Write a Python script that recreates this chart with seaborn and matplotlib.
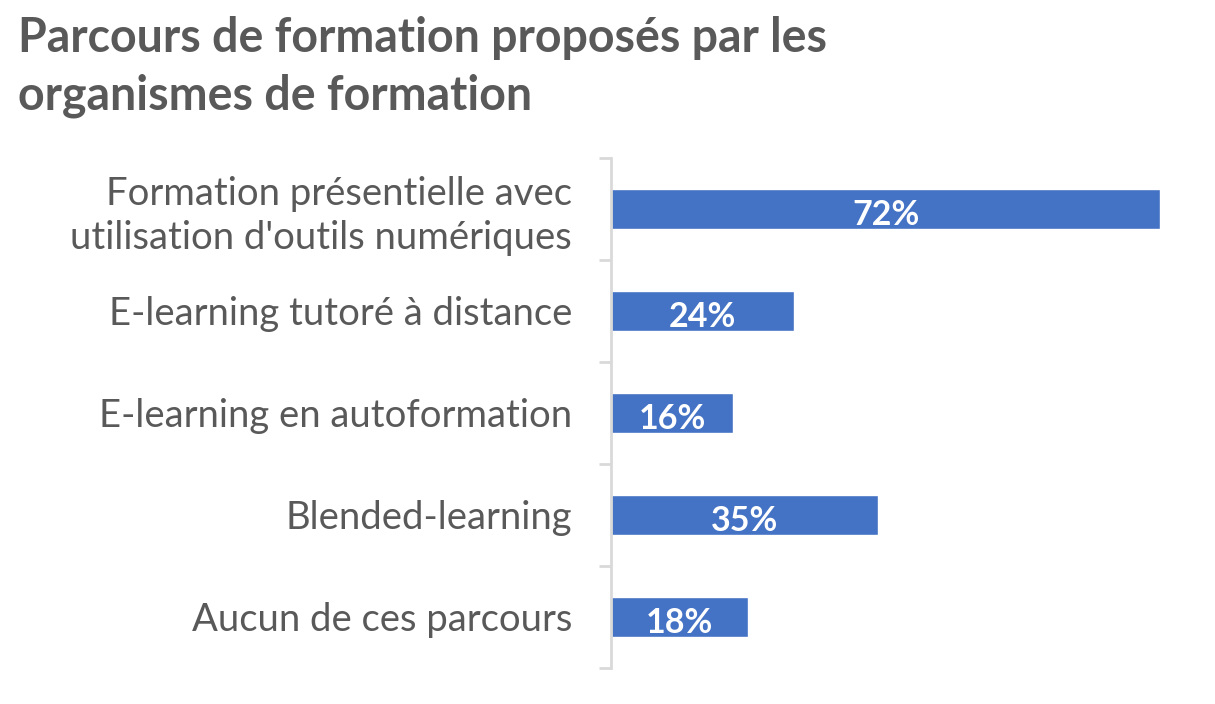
import matplotlib
matplotlib.use("Agg")
import matplotlib.pyplot as plt
import seaborn as sns
import pandas as pd
import numpy as np

categories = [
    "Formation présentielle avec\nutilisation d'outils numériques",
    "E-learning tutoré à distance",
    "E-learning en autoformation",
    "Blended-learning",
    "Aucun de ces parcours",
]
values = [72, 24, 16, 35, 18]
value_labels = ["72%", "24%", "16%", "35%", "18%"]
title = "Parcours de formation proposés par les\norganismes de formation"

sns.set_theme(style="white")
plt.rcParams['font.family'] = ['Lato', 'DejaVu Sans']

df = pd.DataFrame({"cat": categories, "val": values})

fig = plt.figure(figsize=(12.15, 7.04), dpi=100)
ax = fig.add_axes([611/1215, 1 - 668/704, (1160 - 611)/1215, (668 - 158)/704])

sns.barplot(data=df, x="val", y="cat", color="#4472C4", saturation=1, width=0.39, ax=ax)

ax.set_xlim(0, 72)
ax.set_ylim(4.5, -0.5)
ax.set_xlabel("")
ax.set_ylabel("")
ax.set_xticks([])
for s in ["top", "right", "bottom"]:
    ax.spines[s].set_visible(False)
ax.spines["left"].set_color("#d9d9d9")
ax.spines["left"].set_linewidth(2)

ax.set_yticks(range(len(categories)))
ax.set_yticklabels(categories, fontsize=27.5, color="#595959", ha="right", linespacing=1.25)
ax.tick_params(axis="y", which="major", length=0, pad=28)
ax.set_yticks(np.arange(-0.5, len(categories), 1.0), minor=True)
ax.tick_params(axis="y", which="minor", length=9, width=2, color="#d9d9d9", left=True)

for i, (v, lab) in enumerate(zip(values, value_labels)):
    ax.text(v / 2, i + 0.06, lab, ha="center", va="center", color="white",
            fontsize=24.5, fontweight="bold")

fig.text(18/1215, 1 - 16/704, title, ha="left", va="top", fontsize=33.5,
         fontweight="bold", color="#595959", linespacing=1.38)

fig.savefig("out.png", dpi=100, facecolor="white")
